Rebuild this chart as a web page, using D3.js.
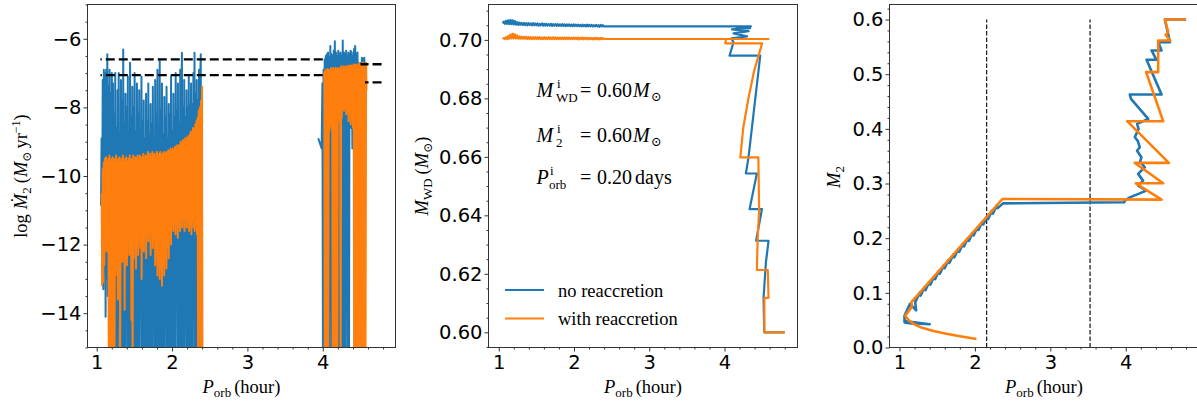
<!DOCTYPE html>
<html>
<head>
<meta charset="utf-8">
<script src="https://cdn.jsdelivr.net/npm/d3@7"></script>
<style>
body { margin: 0; background: #fff; }
</style>
</head>
<body>
<script>
// ---- data: [Porb (hour), value] ----
// left panel, log Mdot2, short-period block and long-period block
const rateBlueShort = [[1.057,-10.87],[1.065,-8.9],[1.072,-12.0],[1.080,-7.2],[1.088,-13.3],[1.095,-6.9],[1.103,-12.8],[1.110,-7.0],[1.118,-14.1],[1.126,-6.9],[1.133,-13.0],[1.141,-6.45],[1.148,-13.5],[1.156,-7.4],[1.163,-14.5],[1.171,-6.9],[1.178,-16],[1.186,-7.6],[1.193,-16],[1.201,-7.0],[1.209,-15.2],[1.216,-7.3],[1.224,-16],[1.231,-8.2],[1.239,-16],[1.246,-7.0],[1.254,-16],[1.262,-8.6],[1.269,-16],[1.277,-7.5],[1.284,-13.8],[1.292,-7.0],[1.299,-16],[1.307,-8.8],[1.314,-16],[1.322,-7.2],[1.330,-16],[1.337,-7.8],[1.345,-16],[1.352,-6.31],[1.360,-16],[1.367,-8.5],[1.375,-16],[1.382,-7.6],[1.390,-12.5],[1.398,-8.0],[1.405,-16],[1.413,-7.1],[1.420,-16],[1.428,-8.7],[1.435,-16],[1.443,-6.7],[1.451,-16],[1.458,-8.3],[1.466,-16],[1.473,-7.4],[1.481,-13.9],[1.488,-8.0],[1.496,-16],[1.503,-7.0],[1.511,-16],[1.519,-8.7],[1.526,-16],[1.534,-7.3],[1.541,-16],[1.549,-8.2],[1.556,-16],[1.564,-7.5],[1.571,-16],[1.579,-9.0],[1.587,-12.2],[1.594,-7.1],[1.602,-16],[1.609,-8.4],[1.617,-16],[1.624,-7.8],[1.632,-16],[1.639,-8.9],[1.647,-16],[1.655,-7.6],[1.662,-16],[1.670,-8.4],[1.677,-16],[1.685,-7.3],[1.692,-16],[1.700,-8.8],[1.708,-16],[1.715,-7.9],[1.723,-16],[1.730,-8.5],[1.738,-16],[1.745,-7.4],[1.753,-12.8],[1.760,-8.9],[1.768,-16],[1.776,-7.2],[1.783,-16],[1.791,-8.2],[1.798,-16],[1.806,-6.9],[1.813,-16],[1.821,-8.6],[1.829,-16],[1.836,-6.6],[1.844,-16],[1.851,-8.1],[1.859,-16],[1.866,-7.3],[1.874,-16],[1.881,-8.8],[1.889,-16],[1.897,-7.7],[1.904,-16],[1.912,-8.3],[1.919,-13.5],[1.927,-7.4],[1.934,-16],[1.942,-8.9],[1.950,-16],[1.957,-7.9],[1.965,-16],[1.972,-8.2],[1.980,-16],[1.987,-7.1],[1.995,-16],[2.003,-8.7],[2.010,-16],[2.018,-7.6],[2.025,-16],[2.033,-8.3],[2.040,-16],[2.048,-7.0],[2.056,-12.0],[2.063,-8.1],[2.071,-16],[2.078,-7.3],[2.086,-16],[2.093,-8.5],[2.101,-16],[2.108,-6.9],[2.116,-16],[2.124,-7.8],[2.131,-6.41],[2.139,-16],[2.146,-8.0],[2.154,-16],[2.161,-7.2],[2.169,-16],[2.177,-8.3],[2.184,-12.4],[2.192,-7.5],[2.199,-16],[2.207,-8.0],[2.214,-16],[2.222,-7.1],[2.230,-16],[2.237,-7.9],[2.245,-16],[2.252,-7.3],[2.260,-16],[2.268,-7.9],[2.275,-16],[2.283,-7.0],[2.290,-13.0],[2.298,-6.41],[2.305,-16],[2.313,-7.6],[2.320,-16],[2.328,-7.2],[2.335,-16],[2.343,-7.8],[2.350,-16],[2.358,-6.9],[2.366,-16],[2.373,-7.3],[2.381,-6.45],[2.388,-16],[2.395,-7.5],[2.400,-16]];
const rateBlueLong = [[3.940,-8.9],[3.985,-9.2],[3.995,-7.3],[4.003,-16],[4.010,-6.9],[4.018,-16],[4.025,-6.6],[4.033,-9.5],[4.040,-6.5],[4.048,-16],[4.055,-6.45],[4.063,-8.2],[4.070,-6.4],[4.078,-16],[4.085,-6.55],[4.093,-16],[4.100,-6.21],[4.108,-9.0],[4.115,-6.45],[4.123,-16],[4.130,-6.5],[4.138,-16],[4.145,-6.35],[4.153,-8.7],[4.160,-6.07],[4.168,-16],[4.175,-6.4],[4.183,-16],[4.190,-6.5],[4.198,-16],[4.205,-6.35],[4.213,-16],[4.220,-6.45],[4.228,-16],[4.235,-6.4],[4.243,-16],[4.250,-6.5],[4.258,-16],[4.265,-6.05],[4.273,-16],[4.280,-6.4],[4.288,-16],[4.295,-6.45],[4.303,-16],[4.310,-6.35],[4.318,-8.1],[4.325,-6.5],[4.333,-16],[4.340,-6.4],[4.348,-16],[4.355,-6.45],[4.363,-8.5],[4.370,-6.35],[4.378,-8.6],[4.385,-6.4],[4.393,-9.2],[4.400,-6.5],[4.408,-9.0],[4.415,-6.3],[4.423,-16],[4.430,-6.21],[4.438,-8.6],[4.445,-6.45],[4.453,-16],[4.460,-6.4],[4.468,-8.3],[4.475,-6.7],[4.483,-16],[4.490,-6.75],[4.498,-9.0],[4.505,-6.7],[4.513,-16],[4.520,-6.55],[4.528,-8.4],[4.535,-6.6],[4.543,-7.2],[4.550,-6.55],[4.558,-6.9]];
const rateOrangeShort = [[1.066,-10.5],[1.072,-13.2],[1.079,-9.8],[1.087,-13.1],[1.094,-9.6],[1.101,-12.6],[1.109,-9.5],[1.116,-11.8],[1.124,-9.45],[1.131,-12.2],[1.139,-9.6],[1.146,-11.5],[1.154,-9.5],[1.161,-16],[1.169,-9.4],[1.176,-16],[1.184,-9.6],[1.191,-16],[1.199,-9.5],[1.206,-16],[1.214,-9.45],[1.221,-12.4],[1.229,-9.6],[1.236,-16],[1.244,-9.5],[1.251,-12.9],[1.259,-9.4],[1.266,-12.0],[1.274,-9.6],[1.281,-13.6],[1.289,-9.5],[1.296,-12.2],[1.304,-9.45],[1.311,-16],[1.319,-9.6],[1.326,-11.9],[1.334,-9.5],[1.341,-12.5],[1.349,-9.4],[1.356,-11.7],[1.364,-9.6],[1.371,-13.9],[1.379,-9.5],[1.386,-12.1],[1.394,-9.45],[1.401,-12.6],[1.409,-9.6],[1.416,-11.8],[1.424,-9.5],[1.431,-12.3],[1.439,-9.4],[1.446,-11.9],[1.454,-9.55],[1.461,-14.2],[1.469,-9.5],[1.476,-16],[1.484,-9.4],[1.491,-12.4],[1.499,-9.6],[1.506,-11.8],[1.514,-9.45],[1.521,-12.7],[1.529,-9.5],[1.536,-12.0],[1.544,-9.4],[1.551,-12.3],[1.559,-9.55],[1.566,-11.7],[1.574,-9.4],[1.581,-12.1],[1.589,-9.5],[1.596,-13.0],[1.604,-9.45],[1.611,-11.9],[1.619,-9.35],[1.626,-12.2],[1.634,-9.5],[1.641,-11.6],[1.649,-9.4],[1.656,-12.4],[1.664,-9.45],[1.671,-11.5],[1.679,-9.3],[1.686,-11.9],[1.694,-9.45],[1.701,-11.4],[1.709,-9.35],[1.716,-12.3],[1.724,-9.45],[1.731,-11.6],[1.739,-9.3],[1.746,-12.1],[1.754,-9.4],[1.761,-11.5],[1.769,-9.35],[1.776,-12.6],[1.784,-9.45],[1.791,-12.3],[1.799,-9.3],[1.806,-12.9],[1.814,-9.4],[1.821,-12.5],[1.829,-9.35],[1.836,-13.0],[1.844,-9.3],[1.851,-12.7],[1.859,-9.4],[1.866,-13.2],[1.874,-9.35],[1.881,-12.6],[1.889,-9.3],[1.896,-12.9],[1.904,-9.4],[1.911,-12.4],[1.919,-9.3],[1.926,-12.7],[1.934,-9.35],[1.941,-12.1],[1.949,-9.25],[1.956,-12.4],[1.964,-9.3],[1.971,-11.8],[1.979,-9.2],[1.986,-12.0],[1.994,-9.3],[2.001,-11.4],[2.009,-9.2],[2.016,-11.6],[2.024,-9.25],[2.031,-11.3],[2.039,-9.15],[2.046,-11.7],[2.054,-9.2],[2.061,-11.4],[2.069,-9.1],[2.076,-11.8],[2.084,-9.15],[2.091,-11.3],[2.099,-9.1],[2.106,-11.6],[2.114,-9.0],[2.121,-11.2],[2.129,-9.05],[2.136,-11.5],[2.144,-8.95],[2.151,-11.3],[2.159,-9.0],[2.166,-11.6],[2.174,-8.9],[2.181,-11.2],[2.189,-8.95],[2.196,-11.5],[2.204,-8.85],[2.211,-11.3],[2.219,-8.9],[2.226,-11.6],[2.234,-8.8],[2.241,-11.4],[2.249,-8.7],[2.256,-11.7],[2.264,-8.75],[2.271,-11.3],[2.279,-8.6],[2.286,-11.5],[2.294,-8.65],[2.301,-11.6],[2.309,-8.5],[2.316,-11.4],[2.324,-8.4],[2.331,-11.7],[2.339,-8.3],[2.346,-16],[2.354,-8.1],[2.361,-11.5],[2.369,-8.0],[2.376,-16],[2.384,-7.8],[2.391,-11.6],[2.398,-7.4],[2.402,-16]];
const rateOrangeLong = [[4.020,-6.95],[4.027,-16],[4.035,-6.9],[4.042,-16],[4.050,-6.95],[4.057,-16],[4.065,-6.88],[4.072,-16],[4.080,-6.9],[4.087,-8.7],[4.095,-6.95],[4.102,-8.5],[4.110,-6.85],[4.117,-8.6],[4.125,-6.9],[4.132,-16],[4.140,-6.85],[4.147,-16],[4.155,-6.9],[4.162,-16],[4.170,-6.85],[4.177,-16],[4.185,-6.9],[4.192,-16],[4.200,-6.85],[4.207,-8.4],[4.215,-6.88],[4.222,-8.2],[4.230,-6.85],[4.237,-16],[4.245,-6.8],[4.252,-8.3],[4.260,-6.85],[4.267,-8.0],[4.275,-6.8],[4.282,-8.1],[4.290,-6.85],[4.297,-8.0],[4.305,-6.8],[4.312,-8.2],[4.320,-6.82],[4.327,-8.1],[4.335,-6.8],[4.342,-8.4],[4.350,-6.78],[4.357,-8.2],[4.365,-6.8],[4.372,-8.5],[4.380,-6.78],[4.387,-8.3],[4.395,-6.8],[4.402,-8.6],[4.410,-6.75],[4.417,-16],[4.425,-6.78],[4.432,-16],[4.440,-6.75],[4.447,-16],[4.455,-6.8],[4.462,-16],[4.470,-6.75],[4.477,-16],[4.485,-6.72],[4.492,-16],[4.500,-6.75],[4.507,-16],[4.515,-6.72],[4.522,-16],[4.530,-6.7],[4.537,-16],[4.545,-6.72],[4.552,-16],[4.560,-6.75],[4.567,-16],[4.575,-6.7],[4.580,-7.5]];
// critical rates (dashed); null = no line while the long-period block is running
const critUpper = [[4.78,-6.74],[4.50,-6.74],[4.50,null],[4.00,-6.6],[1.05,-6.6]];
const critLower = [[4.78,-7.27],[4.56,-7.27],[4.56,null],[4.00,-7.06],[1.05,-7.06]];

// middle panel, WD mass
const mwdBlue = [[4.80,0.600],[4.528,0.600],[4.519,0.6118],[4.55,0.6238],[4.585,0.6313],[4.42,0.6313],[4.497,0.6421],[4.333,0.6421],[4.43,0.6543],[4.284,0.6543],[4.319,0.6598],[4.475,0.6946],[4.067,0.6946],[4.12,0.6992],[4.09,0.7005],[4.30,0.7012],[4.12,0.7022],[4.32,0.7030],[4.10,0.7036],[4.34,0.7040],[4.16,0.7043],[4.35,0.7046],[2.40,0.7046],
  [2.385,0.7050],[2.370,0.7046],[2.355,0.7051],[2.340,0.7045],[2.325,0.7050],[2.310,0.7046],[2.295,0.7051],[2.280,0.7046],[2.265,0.7050],[2.250,0.7046],[2.235,0.7051],[2.220,0.7046],[2.205,0.7051],[2.190,0.7046],[2.175,0.7052],[2.160,0.7046],[2.145,0.7051],[2.130,0.7047],[2.115,0.7052],[2.100,0.7046],[2.085,0.7051],[2.070,0.7047],[2.055,0.7052],[2.040,0.7047],[2.025,0.7052],[2.010,0.7047],[1.995,0.7053],[1.980,0.7047],[1.965,0.7052],[1.950,0.7047],[1.935,0.7053],[1.920,0.7048],[1.905,0.7053],[1.890,0.7047],[1.875,0.7053],[1.860,0.7048],[1.845,0.7054],[1.830,0.7048],[1.815,0.7053],[1.800,0.7048],[1.785,0.7054],[1.770,0.7048],[1.755,0.7054],[1.740,0.7049],[1.725,0.7054],[1.710,0.7048],[1.695,0.7055],[1.680,0.7049],[1.665,0.7054],[1.650,0.7049],[1.635,0.7055],[1.620,0.7049],[1.605,0.7055],[1.590,0.7049],[1.575,0.7056],[1.560,0.7050],[1.545,0.7055],[1.530,0.7049],[1.515,0.7056],[1.500,0.7050],[1.485,0.7056],[1.470,0.7050],[1.455,0.7057],[1.440,0.7050],[1.425,0.7056],[1.410,0.7051],[1.395,0.7057],[1.380,0.7050],[1.365,0.7057],[1.350,0.7051],[1.335,0.7058],[1.320,0.7051],[1.305,0.7058],[1.290,0.7052],[1.275,0.7059],[1.260,0.7051],[1.245,0.7061],[1.230,0.7052],[1.215,0.7064],[1.200,0.7053],[1.185,0.7067],[1.170,0.7054],[1.155,0.7068],[1.140,0.7054],[1.125,0.7067],[1.110,0.7055],[1.095,0.7065],[1.080,0.7055],[1.065,0.7062],[1.055,0.7056]];
const mwdOrange = [[4.80,0.600],[4.53,0.600],[4.53,0.6118],[4.585,0.6118],[4.575,0.6213],[4.43,0.6213],[4.44,0.6313],[4.46,0.6421],[4.45,0.6598],[4.21,0.6598],[4.25,0.6701],[4.32,0.6803],[4.395,0.6895],[4.50,0.6988],[4.01,0.6988],[4.02,0.7003],[4.585,0.7003],[2.40,0.7003],
  [2.385,0.7006],[2.370,0.7002],[2.355,0.7007],[2.340,0.7002],[2.325,0.7006],[2.310,0.7002],[2.295,0.7007],[2.280,0.7002],[2.265,0.7007],[2.250,0.7002],[2.235,0.7006],[2.220,0.7002],[2.205,0.7007],[2.190,0.7002],[2.175,0.7007],[2.160,0.7003],[2.145,0.7007],[2.130,0.7002],[2.115,0.7008],[2.100,0.7003],[2.085,0.7007],[2.070,0.7002],[2.055,0.7008],[2.040,0.7003],[2.025,0.7007],[2.010,0.7003],[1.995,0.7008],[1.980,0.7003],[1.965,0.7007],[1.950,0.7003],[1.935,0.7008],[1.920,0.7003],[1.905,0.7008],[1.890,0.7003],[1.875,0.7008],[1.860,0.7003],[1.845,0.7008],[1.830,0.7003],[1.815,0.7008],[1.800,0.7003],[1.785,0.7008],[1.770,0.7003],[1.755,0.7008],[1.740,0.7003],[1.725,0.7009],[1.710,0.7003],[1.695,0.7008],[1.680,0.7003],[1.665,0.7009],[1.650,0.7003],[1.635,0.7008],[1.620,0.7003],[1.605,0.7009],[1.590,0.7003],[1.575,0.7008],[1.560,0.7003],[1.545,0.7009],[1.530,0.7003],[1.515,0.7009],[1.500,0.7003],[1.485,0.7009],[1.470,0.7003],[1.455,0.7009],[1.440,0.7003],[1.425,0.7009],[1.410,0.7003],[1.395,0.7010],[1.380,0.7003],[1.365,0.7010],[1.350,0.7004],[1.335,0.7010],[1.320,0.7004],[1.305,0.7011],[1.290,0.7004],[1.275,0.7012],[1.260,0.7004],[1.245,0.7015],[1.230,0.7005],[1.215,0.7019],[1.200,0.7005],[1.185,0.7021],[1.170,0.7005],[1.155,0.7018],[1.140,0.7004],[1.125,0.7013],[1.110,0.7003],[1.095,0.7009],[1.080,0.7003],[1.065,0.7006],[1.058,0.7002]];

// right panel, donor mass
const m2Blue = [[4.80,0.600],[4.519,0.600],[4.586,0.5587],[4.431,0.5587],[4.475,0.5434],[4.342,0.5434],[4.408,0.5263],[4.276,0.5263],[4.475,0.4628],[4.054,0.4628],[4.07,0.455],[4.298,0.4183],[4.151,0.409],[4.17,0.400],[4.12,0.3846],[4.16,0.378],[4.186,0.3663],[4.15,0.360],[4.208,0.3480],[4.19,0.340],[4.252,0.3297],[4.164,0.3176],[4.23,0.3053],[4.164,0.2962],[4.274,0.287],[4.054,0.2747],[3.987,0.2687],[3.98,0.2656],[2.372,0.2637],[2.302,0.255],[2.289,0.26],[2.238,0.245],[2.225,0.25],[2.175,0.235],[2.161,0.24],[2.111,0.225],[2.098,0.23],[2.047,0.215],[2.034,0.22],[1.983,0.205],[1.970,0.21],[1.919,0.195],[1.906,0.20],[1.855,0.185],[1.842,0.19],[1.791,0.175],[1.778,0.18],[1.727,0.165],[1.714,0.17],[1.663,0.155],[1.650,0.16],[1.599,0.145],[1.586,0.15],[1.535,0.135],[1.522,0.14],[1.472,0.125],[1.459,0.13],[1.408,0.115],[1.395,0.12],[1.344,0.105],[1.331,0.11],[1.280,0.095],[1.267,0.10],[1.216,0.085],[1.203,0.09],[1.22,0.068],[1.139,0.08],[1.066,0.058],[1.066,0.046],[1.15,0.044],[1.09,0.048],[1.40,0.0425],[1.10,0.045]];
const m2Orange = [[4.80,0.600],[4.519,0.600],[4.564,0.577],[4.53,0.572],[4.59,0.5617],[4.43,0.5617],[4.43,0.5037],[4.27,0.5037],[4.497,0.414],[4.019,0.414],[4.572,0.3377],[4.12,0.3377],[4.497,0.3004],[4.134,0.3004],[4.475,0.2705],[2.364,0.2717],[1.155,0.0825],[1.165,0.077],[1.15,0.072],[1.075,0.058],[1.12,0.050],[1.20,0.042],[1.30,0.036],[1.45,0.030],[1.62,0.025],[1.82,0.020],[2.02,0.0155]];
const gapEdges = [2.155, 3.527];   // period gap, dashed verticals

// ticks and labels
const periodTicks = [1, 2, 3, 4];
const rateTicks = [-14, -12, -10, -8, -6];
const mwdTicks = [0.60, 0.62, 0.64, 0.66, 0.68, 0.70];
const m2Ticks = [0.0, 0.1, 0.2, 0.3, 0.4, 0.5, 0.6];
const legendLabels = ["no reaccretion", "with reaccretion"];

const BLUE = "#1f77b4", ORANGE = "#ff7f0e";
const SERIF = "'Liberation Serif','DejaVu Serif',serif";
const TICK_FS = 19.5;

const svg = d3.select("body").append("svg").attr("width", 1197).attr("height", 403);

function makePanel(left, right, xDom, yDom) {
  const top = 4.5, bottom = 347.5;
  const w = right - left, h = bottom - top;
  const g = svg.append("g").attr("transform", `translate(${left},${top})`);
  const x = d3.scaleLinear().domain(xDom).range([0, w]);
  const y = d3.scaleLinear().domain(yDom).range([h, 0]);
  const id = "clip" + Math.round(left);
  g.append("clipPath").attr("id", id).append("rect").attr("width", w).attr("height", h);
  const plot = g.append("g").attr("clip-path", `url(#${id})`);
  return { g, plot, x, y, w, h };
}

function near(v, arr) { return arr.some(a => Math.abs(a - v) < 1e-6); }

function addAxes(p, yMajor, yMinor, yFmt) {
  const xMinor = d3.range(4, 26).map(i => i / 5)
    .filter(v => v >= p.x.domain()[0] && v <= p.x.domain()[1] && !near(v, periodTicks));
  const yMin = yMinor.filter(v => v >= p.y.domain()[0] - 1e-9 && v <= p.y.domain()[1] && !near(v, yMajor));
  const style = s => {
    s.select(".domain").remove();
    s.selectAll("line").attr("stroke", "#333");
    s.attr("font-family", "'DejaVu Sans',sans-serif").attr("font-size", TICK_FS);
    s.selectAll("text").attr("fill", "#000");
  };
  p.g.append("g").attr("transform", `translate(0,${p.h})`)
    .call(d3.axisBottom(p.x).tickValues(xMinor).tickSize(2).tickFormat("")).call(style);
  p.g.append("g").attr("transform", `translate(0,${p.h})`)
    .call(d3.axisBottom(p.x).tickValues(periodTicks).tickSize(4).tickPadding(4).tickFormat(d3.format("d"))).call(style);
  p.g.append("g")
    .call(d3.axisLeft(p.y).tickValues(yMin).tickSize(2).tickFormat("")).call(style);
  p.g.append("g")
    .call(d3.axisLeft(p.y).tickValues(yMajor).tickSize(4).tickPadding(2).tickFormat(yFmt)).call(style);
}

function frame(p) {
  p.g.append("rect").attr("width", p.w).attr("height", p.h)
    .attr("fill", "none").attr("stroke", "#333").attr("stroke-width", 1);
}

function drawLine(p, data, color, width, dash) {
  p.plot.append("path").datum(data)
    .attr("d", d3.line().defined(d => d[1] != null).x(d => p.x(d[0])).y(d => p.y(d[1])))
    .attr("fill", "none").attr("stroke", color).attr("stroke-width", width)
    .attr("stroke-linejoin", "round").attr("stroke-dasharray", dash || null);
}

// rich text: parts = [text, {it, fs, dy, dx}]
function richText(sel, parts, fs) {
  parts.forEach(([t, o]) => {
    o = o || {};
    sel.append("tspan").text(t)
      .attr("font-style", o.it ? "italic" : "normal")
      .attr("font-size", o.fs || fs)
      .attr("dy", o.dy || 0).attr("dx", o.dx || 0);
  });
}

function xLabel(p, cx) {
  const t = svg.append("text").attr("x", cx).attr("y", 393)
    .attr("text-anchor", "middle").attr("font-family", SERIF).attr("font-size", 18.5);
  richText(t, [["P", { it: 1 }], ["orb", { fs: 13, dy: 4 }], ["(hour)", { dy: -4, dx: 3 }]], 18.5);
}

function yLabel(cx, cy, parts) {
  const t = svg.append("text").attr("transform", `translate(${cx},${cy}) rotate(-90)`)
    .attr("text-anchor", "middle").attr("font-family", SERIF).attr("font-size", 18.5);
  richText(t, parts, 18.5);
}

// ---------- panel 1: mass-transfer rate ----------
const p1 = makePanel(87.5, 395.5, [0.878, 4.965], [-15, -5]);
drawLine(p1, rateBlueShort, BLUE, 2);
drawLine(p1, rateBlueLong, BLUE, 2);
drawLine(p1, rateOrangeShort, ORANGE, 2);
drawLine(p1, rateOrangeLong, ORANGE, 2);
drawLine(p1, critUpper, "#000", 2.4, "9,4");
drawLine(p1, critLower, "#000", 2.4, "9,4");
addAxes(p1, rateTicks, d3.range(-30, -9).map(i => i / 2), d3.format("d"));
frame(p1);
xLabel(p1, 241.5);
yLabel(27, 176, [["log", {}], ["M\u0307", { it: 1, dx: 5 }], ["2", { fs: 13, dy: 4 }],
  ["(", { dy: -4, dx: 4 }], ["M", { it: 1 }], ["\u2299", { fs: 12, dy: 4 }],
  ["yr", { dy: -4, dx: 3 }], ["\u22121", { fs: 12, dy: -7 }], [")", { dy: 7 }]]);

// ---------- panel 2: WD mass ----------
const p2 = makePanel(488.5, 797.5, [0.864, 4.97], [0.5948, 0.7121]);
drawLine(p2, mwdBlue, BLUE, 2.2);
drawLine(p2, mwdOrange, ORANGE, 2.2);
addAxes(p2, mwdTicks, d3.range(119, 143).map(i => i * 0.005), d3.format(".2f"));
frame(p2);
xLabel(p2, 643);
yLabel(428, 176, [["M", { it: 1 }], ["WD", { fs: 13, dy: 4 }], ["(", { dy: -4, dx: 4 }],
  ["M", { it: 1 }], ["\u2299", { fs: 12, dy: 4 }], [")", { dy: -4 }]]);

// legend
legendLabels.forEach((lab, i) => {
  const ly = 290 + i * 28.5;
  svg.append("line").attr("x1", 505).attr("x2", 544).attr("y1", ly).attr("y2", ly)
    .attr("stroke", i ? ORANGE : BLUE).attr("stroke-width", 2.2);
  svg.append("text").attr("x", 558).attr("y", ly + 6.5).attr("font-family", SERIF)
    .attr("font-size", 18.5).text(lab);
});

// initial parameters
const notes = [
  { y: 96.7, main: "M", sub: "WD", val: "0.60", unit: "M", sx: 556 },
  { y: 141.7, main: "M", sub: "2", val: "0.60", unit: "M", sx: 556 },
  { y: 184, main: "P", sub: "orb", val: "0.20", unit: "days", sx: 549 }
];
notes.forEach(n => {
  const put = (x, y, t, fs, it) => svg.append("text").attr("x", x).attr("y", y)
    .attr("font-family", SERIF).attr("font-size", fs).attr("font-style", it ? "italic" : "normal").text(t);
  put(536.5, n.y, n.main, 20, 1);
  put(n.sx + 1, n.y - 9, "i", 13);
  put(n.sx, n.y + 5, n.sub, 13);
  put(580, n.y, "=", 20);
  put(597, n.y, n.val, 20);
  if (n.unit === "M") { put(633, n.y, "M", 20, 1); put(651, n.y + 4, "\u2299", 13); }
  else put(635, n.y, n.unit, 20);
});

// ---------- panel 3: donor mass ----------
const p3 = makePanel(889.5, 1198.5, [0.867, 4.965], [0, 0.6275]);
gapEdges.forEach(g => drawLine(p3, [[g, 0], [g, 0.6]], "#222", 1.3, "4.5,2"));
drawLine(p3, m2Blue, BLUE, 2.6);
drawLine(p3, m2Orange, ORANGE, 2.6);
addAxes(p3, m2Ticks, d3.range(0, 32).map(i => i * 0.02), d3.format(".1f"));
frame(p3);
xLabel(p3, 1044);
yLabel(840, 177, [["M", { it: 1 }], ["2", { fs: 13, dy: 4 }]]);
</script>
</body>
</html>
